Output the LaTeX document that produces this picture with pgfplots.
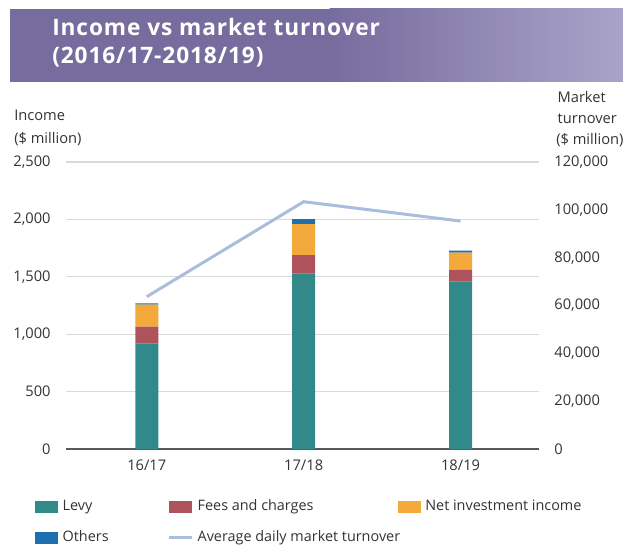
\documentclass[border=0pt]{standalone}
\usepackage{pgfplots}
\pgfplotsset{compat=1.18}
\usepackage{fontspec}
\setmainfont{Open Sans}
\newfontfamily\titlefont[LetterSpace=4]{Open Sans}
\definecolor{levy}{HTML}{32898A}
\definecolor{fees}{HTML}{AE525C}
\definecolor{nii}{HTML}{F4A93B}
\definecolor{oth}{HTML}{1E6FAF}
\definecolor{turncol}{HTML}{A9BEDC}
\definecolor{bannerL}{HTML}{776C9E}
\definecolor{bannerR}{HTML}{A9A3C9}
\definecolor{gridc}{HTML}{DADADA}
\definecolor{txt}{HTML}{333333}
\pgfplotsset{
  sqlegend/.style={legend image code/.code={\fill[##1] (0pt,-4.5pt) rectangle (17.25pt,4.5pt);}},
  lnlegend/.style={legend image code/.code={\draw[##1] (0pt,0pt) -- (17.25pt,0pt);}},
}
\newcommand{\lf}{\fontsize{11}{13}\selectfont}
\newcommand{\lgf}{\fontsize{10.8}{13}\selectfont}
\begin{document}
\begin{tikzpicture}
\path[use as bounding box] (0pt,0pt) rectangle (467.25pt,410.25pt);
\fill[bannerL] (7.5pt,348.75pt) rectangle (247.5pt,403.5pt);
\shade[left color=bannerL, right color=bannerR] (247.125pt,348.75pt) rectangle (467.25pt,403.5pt);
\node[anchor=base west, inner sep=0pt, text=white, font=\titlefont\fontsize{17}{20}\selectfont\bfseries] at (39pt,383.25pt) {Income vs market turnover};
\node[anchor=base west, inner sep=0pt, text=white, font=\titlefont\fontsize{17}{20}\selectfont\bfseries] at (39pt,362.25pt) {(2016/17-2018/19)};
\node[anchor=base west, inner sep=0pt, text=txt, font=\lf] at (10.5pt,319.5pt) {Income};
\node[anchor=base west, inner sep=0pt, text=txt, font=\lf] at (10.5pt,302.625pt) {(\$ million)};
\node[anchor=base west, inner sep=0pt, text=txt, font=\lf] at (418pt,333.375pt) {Market};
\node[anchor=base west, inner sep=0pt, text=txt, font=\lf] at (418pt,317.625pt) {turnover};
\node[anchor=base west, inner sep=0pt, text=txt, font=\lf] at (417pt,301.875pt) {(\$ million)};

\begin{axis}[
  at={(49.5pt,73.5pt)}, anchor=south west,
  scale only axis, width=354.75pt, height=215.25pt,
  xmin=-0.515, xmax=2.5, ymin=0, ymax=2500,
  axis line style={draw=none},
  major tick length=0pt,
  ytick={0,500,1000,1500,2000,2500},
  ymajorgrids, grid style={gridc, line width=0.8pt},
  extra y ticks={0}, extra y tick labels={},
  extra y tick style={grid style={draw=black!65, line width=0.8pt}},
  xtick={0,1,2}, xticklabels={16/17,17/18,18/19},
  yticklabel style={font=\lf, text=txt, xshift=-8pt},
  xticklabel style={font=\lf, text=txt, yshift=-4.5pt},
  /pgf/number format/fixed,
  /pgf/number format/1000 sep={,},
  /pgf/number format/assume math mode=true,
  ybar stacked, bar width=17.25pt,
  legend columns=3,
  legend cell align=left,
  legend style={at={(-0.06554,-0.1765)}, anchor=north west, draw=none, fill=none,
    inner sep=0pt, outer sep=0pt, font=\lgf, text=txt,
    /tikz/every odd column/.append style={column sep=3.5pt},
    /tikz/every even column/.append style={column sep=0pt},
    row sep=12.2pt,
    nodes={inner sep=0pt, outer sep=0pt, text height=8.5pt, text depth=2.5pt}},
]
\addplot[fill=levy, draw=none, sqlegend] coordinates {(0,920) (1,1530) (2,1461)};
\addlegendentry{\makebox[78.25pt][l]{Levy}}
\addplot[fill=fees, draw=none, sqlegend] coordinates {(0,146) (1,158) (2,102)};
\addlegendentry{\makebox[150pt][l]{Fees and charges}}
\addplot[fill=nii, draw=none, sqlegend] coordinates {(0,192) (1,270) (2,148)};
\addlegendentry{Net investment income}
\addplot[fill=oth, draw=none, sqlegend] coordinates {(0,10) (1,44) (2,17)};
\addlegendentry{\makebox[78.25pt][l]{Others}}
\addlegendimage{turncol, line width=2.25pt, lnlegend}
\addlegendentry{\makebox[150pt][l]{Average daily market turnover}}
\end{axis}

\begin{axis}[
  at={(49.5pt,73.5pt)}, anchor=south west,
  scale only axis, width=354.75pt, height=215.25pt,
  xmin=-0.515, xmax=2.5, ymin=0, ymax=120000,
  axis line style={draw=none},
  major tick length=0pt,
  xtick=\empty,
  ytick={0,20000,40000,60000,80000,100000,120000},
  yticklabel pos=right,
  scaled y ticks=false,
  yticklabel style={font=\lf, text=txt, xshift=8pt},
  /pgf/number format/fixed,
  /pgf/number format/precision=0,
  /pgf/number format/1000 sep={,},
  /pgf/number format/assume math mode=true,
]
\addplot[turncol, line width=2.25pt, mark=none] coordinates {(0,63700) (1,103400) (2,95300)};
\end{axis}
\end{tikzpicture}
\end{document}
